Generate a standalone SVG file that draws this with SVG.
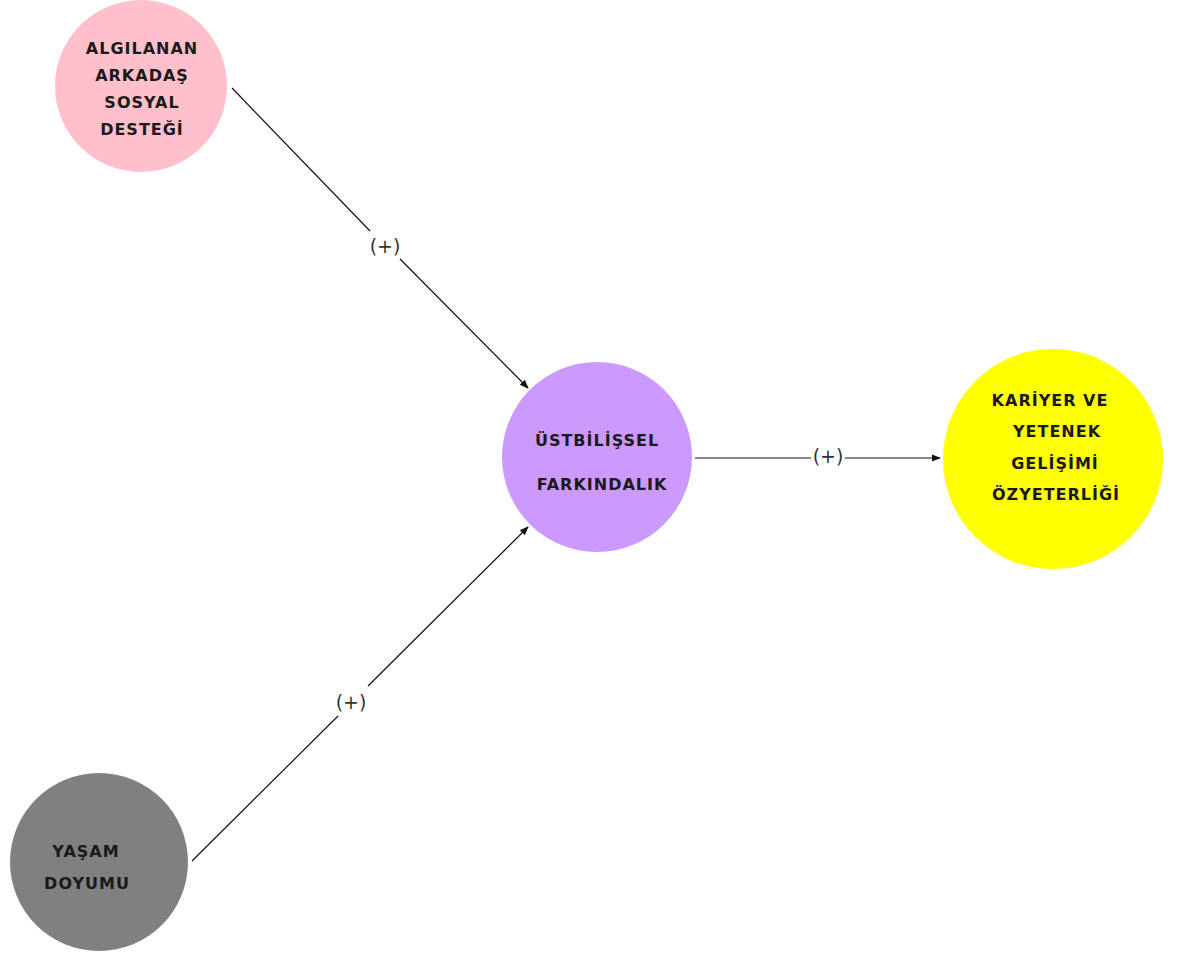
<svg xmlns="http://www.w3.org/2000/svg" width="1179" height="958" viewBox="0 0 1179 958">
<style>
.t{font-family:"Comic Sans MS","DejaVu Sans",sans-serif;font-weight:bold;font-size:16px;letter-spacing:1px;fill:#1a1a1a;text-anchor:middle;dominant-baseline:central}
.l{font-family:"DejaVu Sans",sans-serif;font-size:19px;fill:#333;text-anchor:middle;dominant-baseline:central}
.c{stroke:#111;stroke-width:1.2;fill:none}
</style>
<defs>
<marker id="ah" viewBox="0 0 10 10" refX="9" refY="5" markerWidth="9" markerHeight="9" markerUnits="userSpaceOnUse" orient="auto">
<path d="M0,1 L10,5 L0,9 Z" fill="#111"/>
</marker>
</defs>
<rect width="1179" height="958" fill="#fff"/>
<g id="connectors">
<line class="c" x1="232" y1="88" x2="370" y2="231"/>
<line class="c" x1="400" y1="259" x2="528" y2="388" marker-end="url(#ah)"/>
<line class="c" x1="192" y1="861" x2="338" y2="716"/>
<line class="c" x1="368" y1="686" x2="528" y2="527" marker-end="url(#ah)"/>
<line class="c" x1="695" y1="458" x2="811" y2="458"/>
<line class="c" x1="845" y1="458" x2="940" y2="458" marker-end="url(#ah)"/>
<text class="l" x="385" y="246">(+)</text>
<text class="l" x="351" y="702">(+)</text>
<text class="l" x="828" y="456">(+)</text>
</g>
<g id="node-arkadas">
<circle cx="141" cy="86" r="86" fill="#ffc0cb"/>
<text class="t" x="142" y="48">ALGILANAN</text>
<text class="t" x="142" y="75">ARKADAŞ</text>
<text class="t" x="142" y="102">SOSYAL</text>
<text class="t" x="142" y="129">DESTEĞİ</text>
</g>
<g id="node-ustbilissel">
<circle cx="597" cy="457" r="95" fill="#cc99ff"/>
<text class="t" x="597" y="440">ÜSTBİLİŞSEL</text>
<text class="t" x="602" y="484">FARKINDALIK</text>
</g>
<g id="node-kariyer">
<circle cx="1053" cy="459" r="110" fill="#ffff00"/>
<text class="t" x="1050" y="400">KARİYER VE</text>
<text class="t" x="1057" y="431">YETENEK</text>
<text class="t" x="1055" y="463">GELİŞİMİ</text>
<text class="t" x="1056" y="494">ÖZYETERLİĞİ</text>
</g>
<g id="node-yasam">
<circle cx="99" cy="862" r="89" fill="#808080"/>
<text class="t" x="86" y="851">YAŞAM</text>
<text class="t" x="87" y="883">DOYUMU</text>
</g>
</svg>
